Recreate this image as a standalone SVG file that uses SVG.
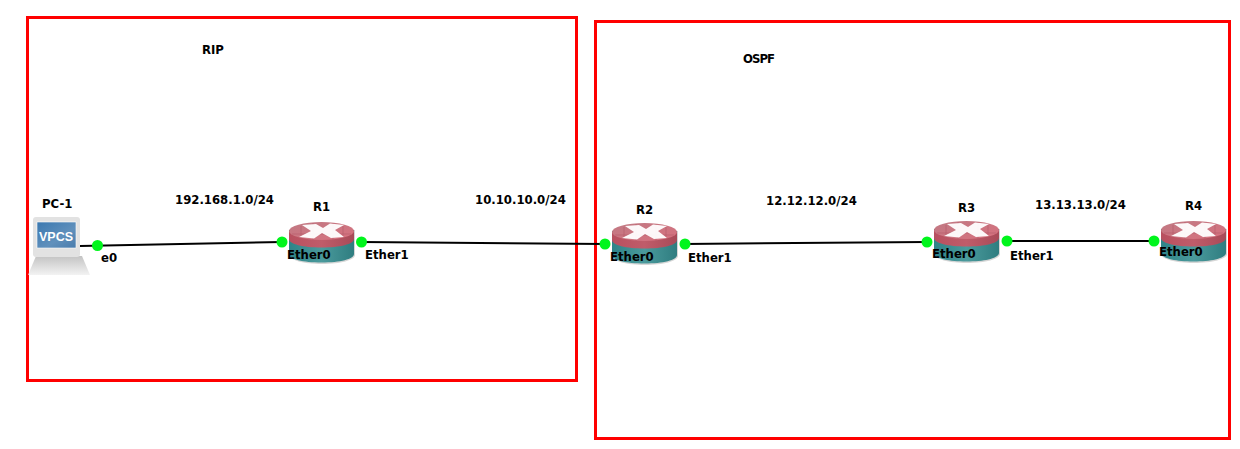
<svg xmlns="http://www.w3.org/2000/svg" width="1240" height="449" viewBox="0 0 1240 449">
<style>
text{font-family:"DejaVu Sans",Verdana,sans-serif;font-weight:700;font-size:11.7px;fill:#000}
.area{fill:none;stroke:#ff0000;stroke-width:3}
.link{fill:none;stroke:#000;stroke-width:2}
.port{fill:#00f51c}
</style>
<defs>
<linearGradient id="teal" x1="0" x2="1" y1="0" y2="0"><stop offset="0" stop-color="#2f8488"/><stop offset=".5" stop-color="#4a9a9c"/><stop offset="1" stop-color="#2f7d80"/></linearGradient>
<linearGradient id="rim" x1="0" x2="1" y1="0" y2="0"><stop offset="0" stop-color="#b8505f"/><stop offset=".5" stop-color="#c05c6a"/><stop offset="1" stop-color="#a84a58"/></linearGradient>
<linearGradient id="top" x1="0" x2="1" y1="0" y2="1"><stop offset="0" stop-color="#c07a84"/><stop offset="1" stop-color="#d8707e"/></linearGradient>
<linearGradient id="screen" x1="0" x2="1" y1="0" y2="1"><stop offset="0" stop-color="#3a78b0"/><stop offset=".6" stop-color="#6090bc"/><stop offset="1" stop-color="#4a7cac"/></linearGradient>
<linearGradient id="base" x1="0" x2="0" y1="0" y2="1"><stop offset="0" stop-color="#b4b4b4"/><stop offset="1" stop-color="#f0f0f0"/></linearGradient>
<g id="router">
<path d="M0 8V33C0 38 15 42 33 42S66 38 66 33V8Z" fill="#bbb" opacity=".6"/>
<path d="M0 8V32C0 37 14 40.500 32.500 40.500S65 37 65 32V8Z" fill="url(#teal)"/>
<path d="M0 9V17C0 22 14 25.500 32.500 25.500S65 22 65 17V9Z" fill="url(#rim)"/>
<ellipse cx="32.500" cy="9" rx="32.500" ry="9" fill="url(#top)"/>
<path d="M3 12H62M12 4V16M24 1V18M44 1V18M54 4V15" fill="none" stroke="#b25c68" stroke-width=".6"/>
<path d="M13 3L27 2L34 6L41 1.500L55 3L46 8L55 15L42 16L33 11L25 16.500L10 15L22 9Z" fill="#fff" opacity=".95"/>
</g>
</defs>
<g id="areas">
<rect class="area" x="27.500" y="17.500" width="549" height="363"/>
<rect class="area" x="595.500" y="21.500" width="634" height="417"/>
</g>
<g id="connectors">
<line class="link" x1="80" y1="246" x2="282" y2="242"/>
<line class="link" x1="361" y1="242" x2="605" y2="244"/>
<line class="link" x1="684" y1="244" x2="927" y2="242"/>
<line class="link" x1="1006" y1="241" x2="1154" y2="241"/>
</g>
<g id="PC-1">
<path d="M36 256H82L90 275H28Z" fill="url(#base)" opacity=".8"/>
<rect x="33" y="217" width="47" height="40" rx="3" fill="#e2e2e2"/>
<rect x="37" y="222" width="39" height="26" fill="url(#screen)" stroke="#fff" stroke-width=".6"/>
<text x="39" y="241" style="fill:#fff;font-family:'Liberation Sans',sans-serif;font-size:12.5px">VPCS</text>
<text x="42" y="208">PC-1</text>
<circle class="port" cx="97.500" cy="245.500" r="5.500"/>
<text x="101" y="262">e0</text>
</g>
<g id="R1">
<use href="#router" x="289" y="222"/>
<text x="313" y="211">R1</text>
<circle class="port" cx="282" cy="242" r="5.500"/>
<circle class="port" cx="361.500" cy="242" r="5.500"/>
<text x="287" y="259">Ether0</text>
<text x="365" y="259">Ether1</text>
</g>
<g id="R2">
<use href="#router" x="612" y="223"/>
<text x="636" y="214">R2</text>
<circle class="port" cx="605" cy="244" r="5.500"/>
<circle class="port" cx="685" cy="244" r="5.500"/>
<text x="610" y="261">Ether0</text>
<text x="688" y="262">Ether1</text>
</g>
<g id="R3">
<use href="#router" x="934" y="221"/>
<text x="958" y="212">R3</text>
<circle class="port" cx="927" cy="242" r="5.500"/>
<circle class="port" cx="1007" cy="241" r="5.500"/>
<text x="932" y="258">Ether0</text>
<text x="1010" y="260">Ether1</text>
</g>
<g id="R4">
<use href="#router" x="1161" y="221"/>
<text x="1185" y="210">R4</text>
<circle class="port" cx="1154" cy="241" r="5.500"/>
<text x="1159" y="256">Ether0</text>
</g>
<g id="labels">
<text x="202" y="54">RIP</text>
<text x="743" y="63" textLength="32">OSPF</text>
<text x="175" y="204">192.168.1.0/24</text>
<text x="475" y="204">10.10.10.0/24</text>
<text x="766" y="205">12.12.12.0/24</text>
<text x="1035" y="209">13.13.13.0/24</text>
</g>
</svg>
